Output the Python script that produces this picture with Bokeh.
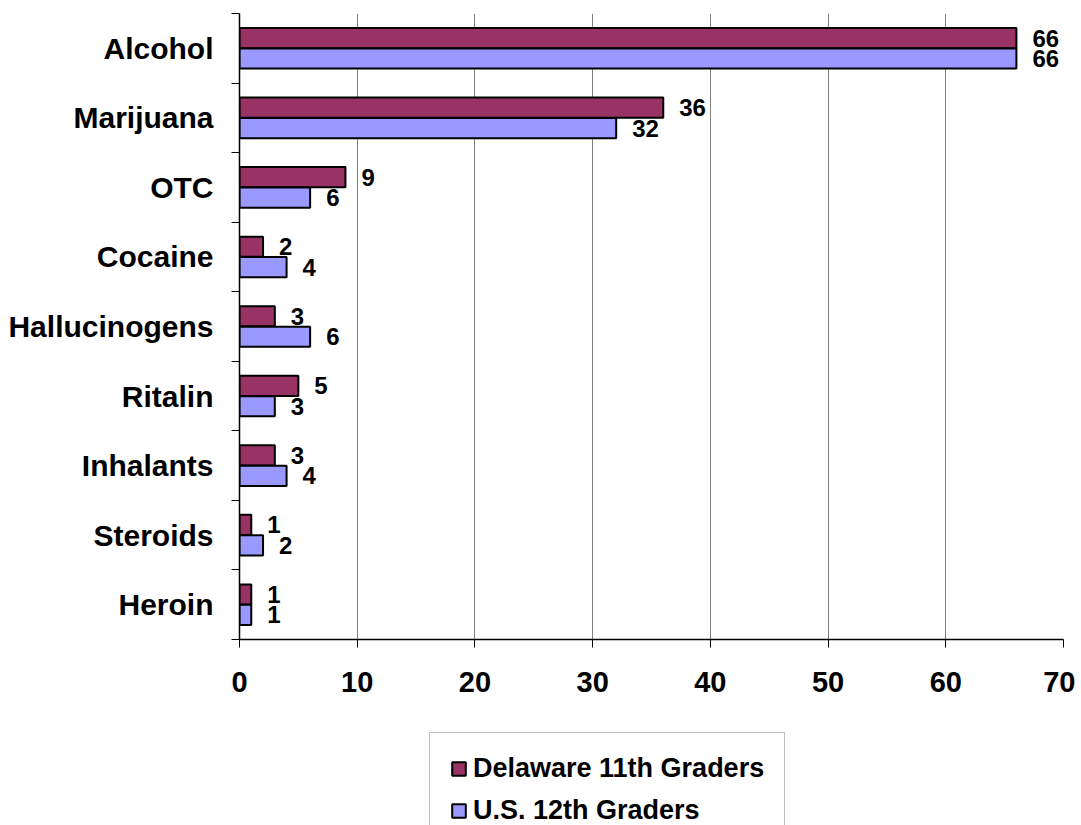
from bokeh.plotting import figure
from bokeh.layouts import column
from bokeh.models import (ColumnDataSource, FixedTicker, Legend, LegendItem, Range1d)
from bokeh.core.properties import value
from bokeh.embed import file_html
from bokeh.resources import INLINE

categories = ["Alcohol", "Marijuana", "OTC", "Cocaine", "Hallucinogens",
              "Ritalin", "Inhalants", "Steroids", "Heroin"]
delaware_11 = [66, 36, 9, 2, 3, 5, 3, 1, 1]
us_12 = [66, 32, 6, 4, 6, 3, 4, 2, 1]
x_ticks = [0, 10, 20, 30, 40, 50, 60, 70]
series_names = ["Delaware 11th Graders", "U.S. 12th Graders"]

FONT = "Liberation Sans"
MAROON = "#993366"
LILAC = "#9999FF"

n = len(categories)
pos = [n - 1 - i for i in range(n)]
off = 0.147
bh = 0.29

src_d = ColumnDataSource(dict(y=[p + off for p in pos], x=delaware_11,
                              lbl=[str(v) for v in delaware_11]))
src_u = ColumnDataSource(dict(y=[p - off for p in pos], x=us_12,
                              lbl=[str(v) for v in us_12]))

p = figure(width=1075, height=730, output_backend="svg", toolbar_location=None,
           x_range=Range1d(0, 70), y_range=Range1d(-0.5, n - 0.5),
           min_border_left=239, min_border_right=12, min_border_top=13,
           min_border_bottom=91)
p.outline_line_color = None
p.background_fill_color = "white"
p.border_fill_color = "white"

r_d = p.hbar(y="y", right="x", left=0, height=bh, source=src_d,
             fill_color=MAROON, line_color="black", line_width=2)
r_u = p.hbar(y="y", right="x", left=0, height=bh, source=src_u,
             fill_color=LILAC, line_color="black", line_width=2)

for src in (src_d, src_u):
    p.text(x="x", y="y", text="lbl", source=src, x_offset=16,
           text_align="left", text_baseline="middle",
           text_font=value(FONT), text_font_style="bold",
           text_font_size="24px", text_color="black")

# x axis
xa = p.xaxis[0]
xa.ticker = FixedTicker(ticks=x_ticks)
xa.axis_line_color = "black"
xa.axis_line_width = 1.5
xa.major_tick_out = 8
xa.major_tick_in = 0
xa.major_tick_line_color = "black"
xa.minor_tick_line_color = None
xa.major_label_text_font = FONT
xa.major_label_text_font_style = "bold"
xa.major_label_text_font_size = "29px"
xa.major_label_text_color = "black"
xa.major_label_standoff = 24

# y axis
ya = p.yaxis[0]
ya.ticker = FixedTicker(ticks=pos, minor_ticks=[i - 0.5 for i in range(n + 1)])
ya.major_label_overrides = {pp: c for pp, c in zip(pos, categories)}
ya.axis_line_color = "black"
ya.axis_line_width = 1.5
ya.major_tick_line_color = None
ya.major_tick_out = 0
ya.major_tick_in = 0
ya.minor_tick_line_color = "black"
ya.minor_tick_out = 8
ya.minor_tick_in = 0
ya.major_label_text_font = FONT
ya.major_label_text_font_style = "bold"
ya.major_label_text_font_size = "30px"
ya.major_label_text_color = "black"
ya.major_label_standoff = 18

p.xgrid.ticker = FixedTicker(ticks=x_ticks)
p.xgrid.grid_line_color = "#808080"
p.xgrid.grid_line_width = 1
p.ygrid.grid_line_color = None

# legend figure (below the chart)
q = figure(width=1075, height=95, output_backend="svg", toolbar_location=None,
           x_range=Range1d(0, 1), y_range=Range1d(0, 1),
           min_border_left=0, min_border_right=0, min_border_top=0,
           min_border_bottom=0)
q.outline_line_color = None
q.axis.visible = False
q.grid.visible = False
# legend swatches only: glyphs carry no drawable geometry
nan = float("nan")
q_d = q.hbar(y=[nan], right=[nan], left=[nan], height=0.1,
             fill_color=MAROON, line_color="black", line_width=2)
q_u = q.hbar(y=[nan], right=[nan], left=[nan], height=0.1,
             fill_color=LILAC, line_color="black", line_width=2)

legend = Legend(items=[LegendItem(label=series_names[0], renderers=[q_d]),
                       LegendItem(label=series_names[1], renderers=[q_u])],
                location=(190, -22), orientation="vertical",
                label_text_font=FONT, label_text_font_style="bold",
                label_text_font_size="27px", label_text_color="black",
                glyph_width=17, glyph_height=17, label_standoff=6,
                spacing=11, padding=20, margin=0,
                border_line_color="#808080", border_line_width=1.5,
                background_fill_color="white", background_fill_alpha=1)
q.add_layout(legend, "center")

open("out.html", "w").write(file_html(column(p, q, spacing=0), INLINE))
